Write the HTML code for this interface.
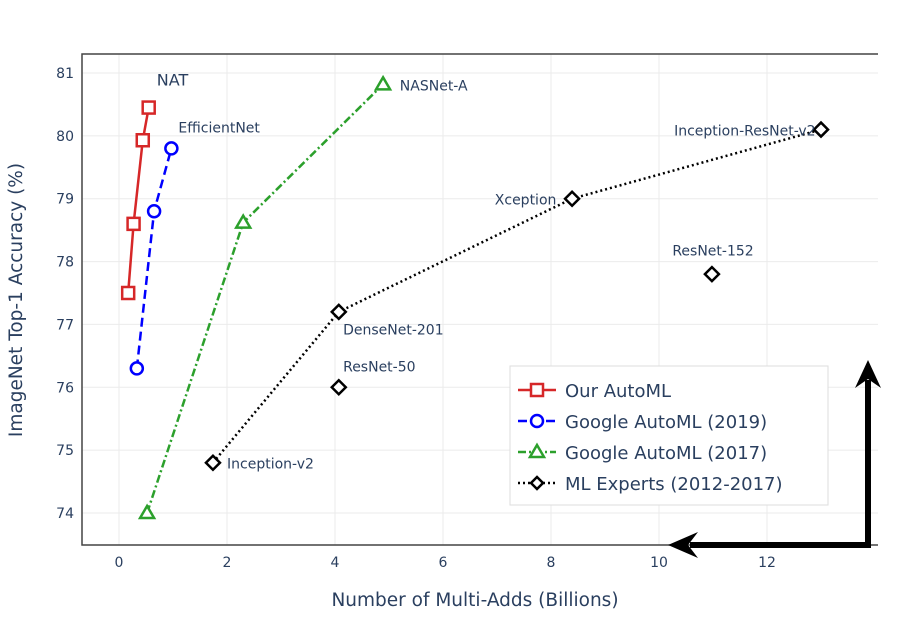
<!DOCTYPE html>
<html><head><meta charset="utf-8"><style>
body{margin:0;background:#fff;}
svg text{font-family:"DejaVu Sans",sans-serif;fill:#2a3f5f;}
</style></head><body>
<svg width="902" height="626">
<g id="grid"></g>
<path d="M878,54 L82,54 L82,545 L878,545" fill="none" stroke="#444" stroke-width="1.5"/>
<g id="series"></g>
<g id="labels"></g>
<text x="475" y="606" font-size="18.5" text-anchor="middle">Number of Multi-Adds (Billions)</text>
<text transform="translate(22,300) rotate(-90)" font-size="18.5" text-anchor="middle">ImageNet Top-1 Accuracy (%)</text>
<g>
<rect x="510" y="366" width="318" height="139" fill="#fff" stroke="#ddd" stroke-width="1"/>
<line x1="518" y1="390" x2="556" y2="390" stroke="#d62728" stroke-width="2.5"/><rect x="531" y="384" width="12" height="12" fill="#fff" stroke="#d62728" stroke-width="2.5"/>
<text x="565" y="397" font-size="18">Our AutoML</text>
<line x1="518" y1="421" x2="556" y2="421" stroke="#0000ff" stroke-width="2.5" stroke-dasharray="9,5"/><circle cx="537" cy="421" r="6" fill="#fff" stroke="#0000ff" stroke-width="2.5"/>
<text x="565" y="428" font-size="18">Google AutoML (2019)</text>
<line x1="518" y1="452" x2="556" y2="452" stroke="#2ca02c" stroke-width="2.5" stroke-dasharray="8,3,2,3"/><path d="M537,445 L544,457 L530,457 Z" fill="#fff" stroke="#2ca02c" stroke-width="2.5"/>
<text x="565" y="459" font-size="18">Google AutoML (2017)</text>
<line x1="518" y1="483" x2="556" y2="483" stroke="#000" stroke-width="2.5" stroke-dasharray="2,3"/><path d="M537,477 L543,483 L537,489 L531,483 Z" fill="#fff" stroke="#000" stroke-width="2.5"/>
<text x="565" y="490" font-size="18">ML Experts (2012-2017)</text>
</g>
<g>
<polyline points="690,545 868,545 868,380" fill="none" stroke="#000" stroke-width="6"/>
<path d="M668,545 L698,532 L688,545 L698,558 Z" fill="#000"/>
<path d="M868,360 L881,388 L868,379 L855,388 Z" fill="#000"/>
</g>
</svg>
<script>
const xTicks=[0,2,4,6,8,10,12];
const yTicks=[74,75,76,77,78,79,80,81];
const oursX=[0.17,0.27,0.44,0.55], oursY=[77.5,78.6,79.93,80.45];
const g19X=[0.33,0.65,0.97], g19Y=[76.3,78.8,79.8];
const g17X=[0.52,2.3,4.89], g17Y=[74.0,78.62,80.82];
const expX=[1.74,4.07,8.39,13.0], expY=[74.8,77.2,79.0,80.1];
const extraX=[4.07,10.98], extraY=[76.0,77.8];
const labels=[["NAT",0.7,80.8,"start",-1,0],["EfficientNet",1.1,80.05,"start",0,0],["NASNet-A",5.2,80.82,"start",0,6],["Inception-ResNet-v2",12.9,80.1,"end",0,6],["Xception",8.1,79.0,"end",0,6],["ResNet-152",11.0,78.1,"middle",0,0],["DenseNet-201",4.15,77.0,"start",0,10],["ResNet-50",4.15,76.25,"start",0,0],["Inception-v2",2.0,74.8,"start",0,6]];
const X=v=>119+v*54, Y=v=>73+(81-v)*62.857;
const NS="http://www.w3.org/2000/svg";
function mk(t,a,p){const e=document.createElementNS(NS,t);for(const k in a)e.setAttribute(k,a[k]);p.appendChild(e);return e;}
const grid=document.getElementById('grid'), ser=document.getElementById('series'), lab=document.getElementById('labels');
xTicks.forEach(t=>{const l=mk('line',{x1:X(t),x2:X(t),y1:54,y2:545,stroke:'#ebebeb','stroke-width':1},grid);


const tx=mk('text',{x:X(t),y:567,'font-size':14,'text-anchor':'middle'},grid);tx.textContent=t;

});
yTicks.forEach(t=>{const l=mk('line',{x1:82,x2:878,y1:Y(t),y2:Y(t),stroke:'#ebebeb','stroke-width':1},grid);


const tx=mk('text',{x:74,y:Y(t)+5,'font-size':14,'text-anchor':'end'},grid);tx.textContent=t;

});
function line(xs,ys,col,dash,name){const p=mk('polyline',{points:xs.map((x,i)=>X(x)+','+Y(ys[i])).join(' '),fill:'none',stroke:col,'stroke-width':2.5,'stroke-dasharray':dash},ser);

}
function markers(xs,ys,col,shape,name){xs.forEach((x,i)=>{const cx=X(x),cy=Y(ys[i]);let e;
if(shape==='sq')e=mk('rect',{x:cx-6,y:cy-6,width:12,height:12},ser);
else if(shape==='ci')e=mk('circle',{cx:cx,cy:cy,r:6},ser);
else if(shape==='tr')e=mk('path',{d:`M${cx},${cy-7} L${cx+7},${cy+5} L${cx-7},${cy+5} Z`},ser);
else e=mk('path',{d:`M${cx},${cy-7} L${cx+7},${cy} L${cx},${cy+7} L${cx-7},${cy} Z`},ser);
e.setAttribute('fill','#fff');e.setAttribute('stroke',col);e.setAttribute('stroke-width',2.5);

});}
line(oursX,oursY,'#d62728','','our-automl-line');markers(oursX,oursY,'#d62728','sq','our-automl-point');
line(g19X,g19Y,'#0000ff','9,5','google-2019-line');markers(g19X,g19Y,'#0000ff','ci','google-2019-point');
line(g17X,g17Y,'#2ca02c','8,3,2,3','google-2017-line');markers(g17X,g17Y,'#2ca02c','tr','google-2017-point');
line(expX,expY,'#000','2,3','ml-experts-line');markers(expX,expY,'#000','di','ml-experts-point');markers(extraX,extraY,'#000','di','ml-experts-point');
labels.forEach(l=>{const t=mk('text',{x:X(l[1]),y:Y(l[2])+l[5],'font-size':l[0]==='NAT'?16:14,'text-anchor':l[3]},lab);t.textContent=l[0];

});
</script>
</body></html>
